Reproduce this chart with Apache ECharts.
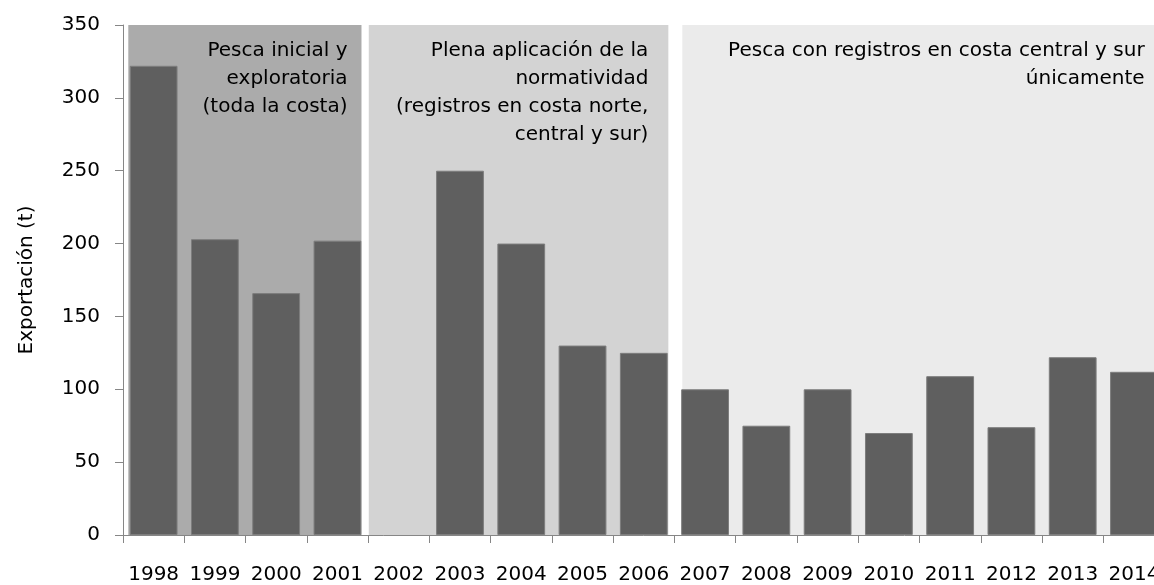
<!DOCTYPE html>
<html>
<head>
<meta charset="utf-8">
<script src="https://cdn.jsdelivr.net/npm/echarts@6/dist/echarts.min.js"></script>
<style>
html,body{margin:0;padding:0;background:#fff;overflow:hidden;width:1154px;height:585px;}
#chart{width:1170px;height:585px;}
</style>
</head>
<body>
<div id="chart"></div>
<script>
var years = ['1998','1999','2000','2001','2002','2003','2004','2005','2006','2007','2008','2009','2010','2011','2012','2013','2014'];
var exportacion = [322, 203, 166, 202, 0, 250, 200, 130, 125, 100, 75, 100, 70, 109, 74, 122, 112];
var yTicks = [0, 50, 100, 150, 200, 250, 300, 350];
var periodStart = [0, 4, 9];
var periodEnd = [3, 8, 16];
var periodLabels = [
  'Pesca inicial y\nexploratoria\n(toda la costa)',
  'Plena aplicación de la\nnormatividad\n(registros en costa norte,\ncentral y sur)',
  'Pesca con registros en costa central y sur\núnicamente'
];

var FONT = 'DejaVu Sans, Verdana, sans-serif';
var periodColors = ['#ababab', '#d3d3d3', '#ebebeb'];
var periodInsets = [[5.3, 6.6], [0.7, 6.1], [7.9, 0]];
var periodTextPad = [14, 20, 20];

var yMax = yTicks[yTicks.length - 1];
var periodData = periodStart.map(function (s, i) { return [s, periodEnd[i], i]; });
var barData = exportacion.map(function (v) {
  return v === 0 ? {value: v, itemStyle: {borderWidth: 0}} : v;
});

var chart = echarts.init(document.getElementById('chart'), null, {renderer: 'canvas'});
chart.setOption({
  animation: false,
  backgroundColor: '#ffffff',
  grid: {left: 123, top: 25, width: 1041.6, height: 510.7, containLabel: false},
  xAxis: {
    type: 'category',
    data: years,
    boundaryGap: true,
    axisLine: {show: true, lineStyle: {color: '#868686', width: 1}},
    axisTick: {show: true, length: 8, inside: false, lineStyle: {color: '#868686'}},
    axisLabel: {interval: 0, fontSize: 20, fontFamily: FONT, color: '#000', margin: 30},
    splitLine: {show: false}
  },
  yAxis: {
    type: 'value',
    min: 0,
    max: yMax,
    interval: 50,
    name: 'Exportación (t)',
    nameLocation: 'middle',
    nameGap: 86,
    nameTextStyle: {fontSize: 20, fontFamily: FONT, color: '#000'},
    axisLine: {show: true, lineStyle: {color: '#868686', width: 1}},
    axisTick: {show: true, length: 8, inside: false, lineStyle: {color: '#868686'}},
    axisLabel: {fontSize: 20, fontFamily: FONT, color: '#000', margin: 23},
    splitLine: {show: false}
  },
  series: [
    {
      type: 'custom',
      data: periodData,
      encode: {x: [0, 1]},
      z: 1,
      silent: true,
      clip: false,
      renderItem: function (params, api) {
        var s = api.value(0), e = api.value(1), idx = api.value(2);
        var band = api.size([1, 0])[0];
        var pTop = api.coord([s, yMax]);
        var pBot = api.coord([e, 0]);
        var ins = periodInsets[idx];
        var x0 = pTop[0] - band / 2 + ins[0];
        var x1 = pBot[0] + band / 2 - ins[1];
        var y0 = pTop[1];
        var y1 = pBot[1];
        return {
          type: 'group',
          children: [
            {type: 'rect', shape: {x: x0, y: y0, width: x1 - x0, height: y1 - y0},
             style: {fill: periodColors[idx]}},
            {type: 'text', style: {
              text: periodLabels[idx], x: x1 - periodTextPad[idx], y: y0 + 12,
              align: 'right', verticalAlign: 'top',
              font: '20px ' + FONT, lineHeight: 28, fill: '#000'}}
          ]
        };
      }
    },
    {
      type: 'bar',
      data: barData,
      z: 3,
      barCategoryGap: '22%',
      itemStyle: {color: '#5f5f5f', borderColor: '#7d7d7d', borderWidth: 1}
    }
  ]
});
</script>
</body>
</html>
